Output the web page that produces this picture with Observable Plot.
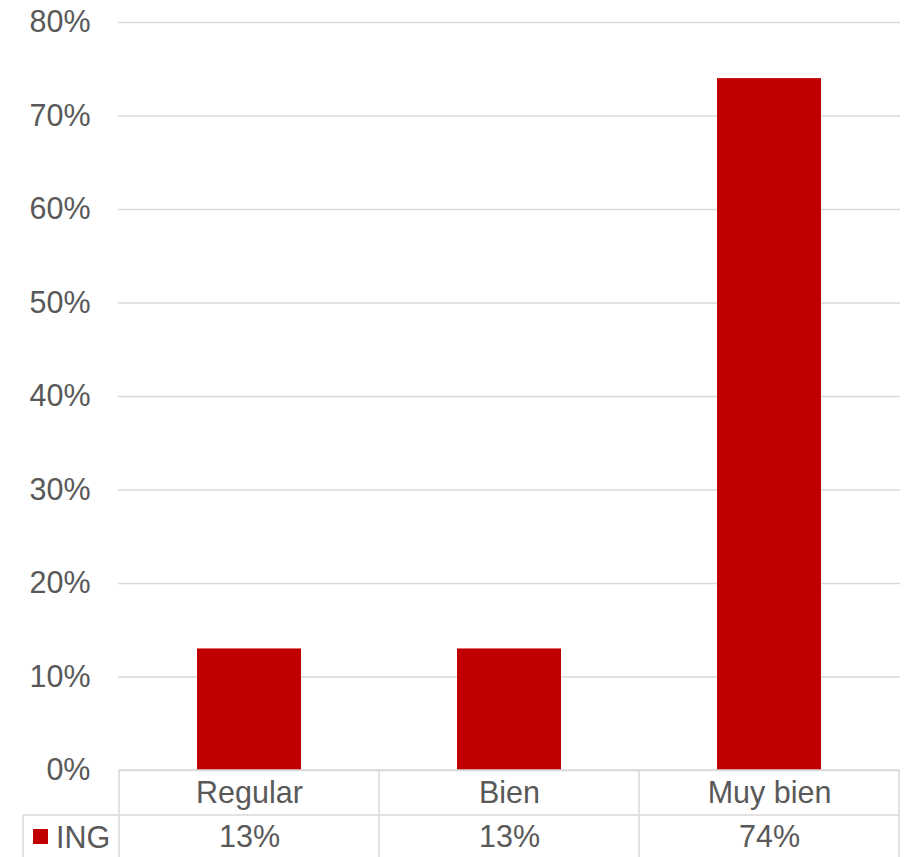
<!DOCTYPE html>
<html><head><meta charset="utf-8">
<script src="https://cdn.jsdelivr.net/npm/d3@7"></script>
<script src="https://cdn.jsdelivr.net/npm/@observablehq/plot@0.6"></script>
<style>body{margin:0;background:#fff} svg{font-family:"Liberation Sans",Arial,sans-serif}</style>
</head><body><div id="chart"></div>
<script>
const categories = ["Regular", "Bien", "Muy bien"];
const seriesName = "ING";
const values = [0.13, 0.13, 0.74];
const yTicks = [0, 0.1, 0.2, 0.3, 0.4, 0.5, 0.6, 0.7, 0.8];
const barColor = "#c00000";
const textColor = "#595959";
const gridColor = "#d9d9d9";

const data = categories.map((c, i) => ({category: c, value: values[i]}));
const pct = d3.format(".0%");
const W = 910, H = 857, mL = 118, mR = 10, mT = 22, mB = 87;
const FS = 30.5;

const plot = Plot.plot({
  width: W, height: H,
  marginLeft: mL, marginRight: mR, marginTop: mT, marginBottom: mB,
  style: {fontFamily: '"Liberation Sans", Arial, sans-serif', fontSize: FS + "px", color: textColor, background: "#fff", overflow: "visible"},
  x: {domain: categories, paddingInner: 0.6, paddingOuter: 0.3, axis: null},
  y: {domain: [0, 0.8], axis: null},
  marks: [
    Plot.gridY(yTicks, {stroke: gridColor, strokeOpacity: 1, strokeWidth: 1.5}),
    Plot.axisY(yTicks, {tickSize: 0, tickPadding: 28, tickFormat: pct, fill: textColor, fontSize: FS, label: null}),
    Plot.barY(data, {x: "category", y: "value", fill: barColor}),
    Plot.text(data, {x: "category", text: "category", frameAnchor: "bottom", dy: 23, lineAnchor: "middle", fill: textColor, fontSize: FS}),
    Plot.text(data, {x: "category", text: d => pct(d.value), frameAnchor: "bottom", dy: 67, lineAnchor: "middle", fill: textColor, fontSize: FS})
  ]
});
document.getElementById("chart").appendChild(plot);

// data table grid lines
const xs = plot.scale("x");
const step = xs.step, bw = xs.bandwidth;
const svg = d3.select(plot);
const g = svg.append("g").attr("stroke", gridColor).attr("stroke-width", 1.5);
const y0 = H - mB, yRow = y0 + 45;
const edges = [];
categories.forEach((c, i) => {
  const center = xs.apply(c) + bw / 2;
  if (i === 0) edges.push(center - step / 2);
  edges.push(center + step / 2);
});
const left = edges[0], right = edges[edges.length - 1];
g.append("line").attr("x1", left).attr("x2", right).attr("y1", y0).attr("y2", y0);
g.append("line").attr("x1", 23).attr("x2", right).attr("y1", yRow).attr("y2", yRow);
edges.forEach(x => g.append("line").attr("x1", x).attr("x2", x).attr("y1", y0).attr("y2", H));
g.append("line").attr("x1", 23).attr("x2", 23).attr("y1", yRow).attr("y2", H);

// legend key in table
svg.append("rect").attr("x", 33).attr("y", 829).attr("width", 15).attr("height", 15).attr("fill", barColor);
svg.append("text").attr("x", 56).attr("y", 837).attr("dy", "0.35em").attr("fill", textColor)
  .attr("text-anchor", "start").attr("font-size", FS).text(seriesName);
</script>
</body></html>
